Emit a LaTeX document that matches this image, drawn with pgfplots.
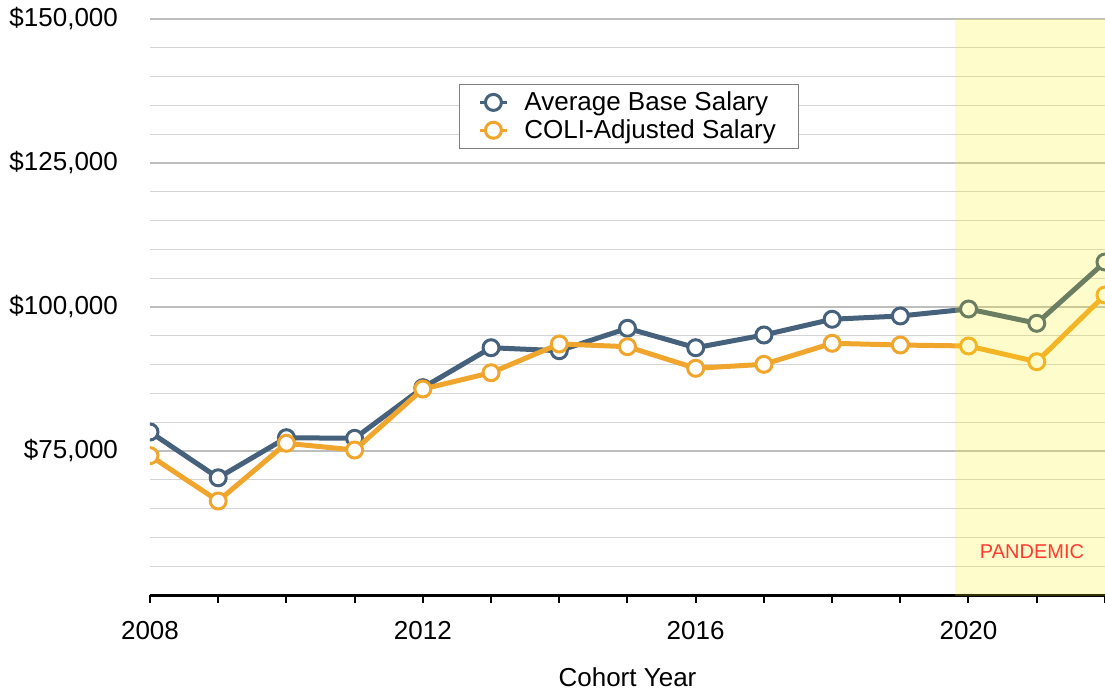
\documentclass[border=0pt]{standalone}
\usepackage{pgfplots}
\pgfplotsset{compat=1.18}
\usepackage{fontspec}
\setmainfont{Liberation Sans}

\definecolor{baseblue}{RGB}{70,97,123}
\definecolor{coliorange}{RGB}{240,166,45}
\definecolor{majgrid}{RGB}{190,190,190}
\definecolor{mingrid}{RGB}{212,212,212}
\definecolor{pandred}{RGB}{255,59,48}

\begin{document}
\begin{tikzpicture}
\useasboundingbox (-75pt,-48pt) rectangle (477.5pt,297.5pt);
\begin{axis}[
    scale only axis,
    width=477.5pt,
    height=288pt,
    xmin=2008, xmax=2022,
    ymin=50000, ymax=150000,
    font=\fontsize{13}{15}\selectfont,
    axis x line=bottom,
    axis y line=left,
    x axis line style={-, black, line width=1.5pt},
    y axis line style={draw=none},
    xtick={2008,...,2022},
    xticklabels={2008,,,,2012,,,,2016,,,,2020,,},
    tick align=outside,
    x tick style={black, line width=1pt},
    major tick length=4pt,
    xticklabel style={yshift=-5.5pt},
    scaled y ticks=false,
    ytick={75000,100000,125000,150000},
    yticklabels={{\$75,000},{\$100,000},{\$125,000},{\$150,000}},
    y tick style={draw=none},
    yticklabel style={xshift=-8.5pt},
    minor ytick={55000,60000,...,145000},
    ymajorgrids, yminorgrids,
    major grid style={majgrid, line width=0.8pt},
    minor grid style={mingrid, line width=0.6pt},
    xlabel={Cohort Year},
    xlabel style={at={(axis description cs:0.5,0)}, anchor=center, yshift=-41pt},
    clip marker paths=true,
    legend style={at={(0.3236,0.887)}, anchor=north west, draw=gray,
        font=\fontsize{13}{15}\selectfont, inner xsep=9.5pt, inner ysep=1.5pt,
        row sep=-1pt, cells={anchor=west}},
    legend image code/.code={
        \draw[#1, line width=1.5pt, mark repeat=2, mark phase=2]
            plot coordinates {(0pt,0pt) (6.75pt,0pt) (13.5pt,0pt)};
        \path (19pt,0pt);
    },
    every axis plot/.append style={line width=2.5pt, mark=*, mark size=4pt,
        mark options={fill=white, line width=1.5pt}},
]

% average base salary
\addplot[color=baseblue] coordinates {
    (2008, 78300)
    (2009, 70350)
    (2010, 77310)
    (2011, 77200)
    (2012, 85990)
    (2013, 92930)
    (2014, 92410)
    (2015, 96300)
    (2016, 92930)
    (2017, 95140)
    (2018, 97870)
    (2019, 98440)
    (2020, 99650)
    (2021, 97170)
    (2022, 107810)
};
\addlegendentry{Average Base Salary}

% cost-of-living adjusted
\addplot[color=coliorange] coordinates {
    (2008, 74190)
    (2009, 66320)
    (2010, 76340)
    (2011, 75170)
    (2012, 85760)
    (2013, 88590)
    (2014, 93580)
    (2015, 93110)
    (2016, 89360)
    (2017, 90050)
    (2018, 93700)
    (2019, 93400)
    (2020, 93230)
    (2021, 90500)
    (2022, 102080)
};
\addlegendentry{COLI-Adjusted Salary}

\coordinate (pA) at (axis cs:2019.8,50000);
\coordinate (pB) at (axis cs:2022,150000);
\coordinate (pT) at (axis cs:2020.93,57465);
\end{axis}

% pandemic band goes over everything, like the original
\fill[yellow, opacity=0.2] ([yshift=-0.75pt]pA) rectangle (pB);
\node[text=pandred, font=\fontsize{10}{12}\selectfont] at (pT) {PANDEMIC};
\end{tikzpicture}
\end{document}
